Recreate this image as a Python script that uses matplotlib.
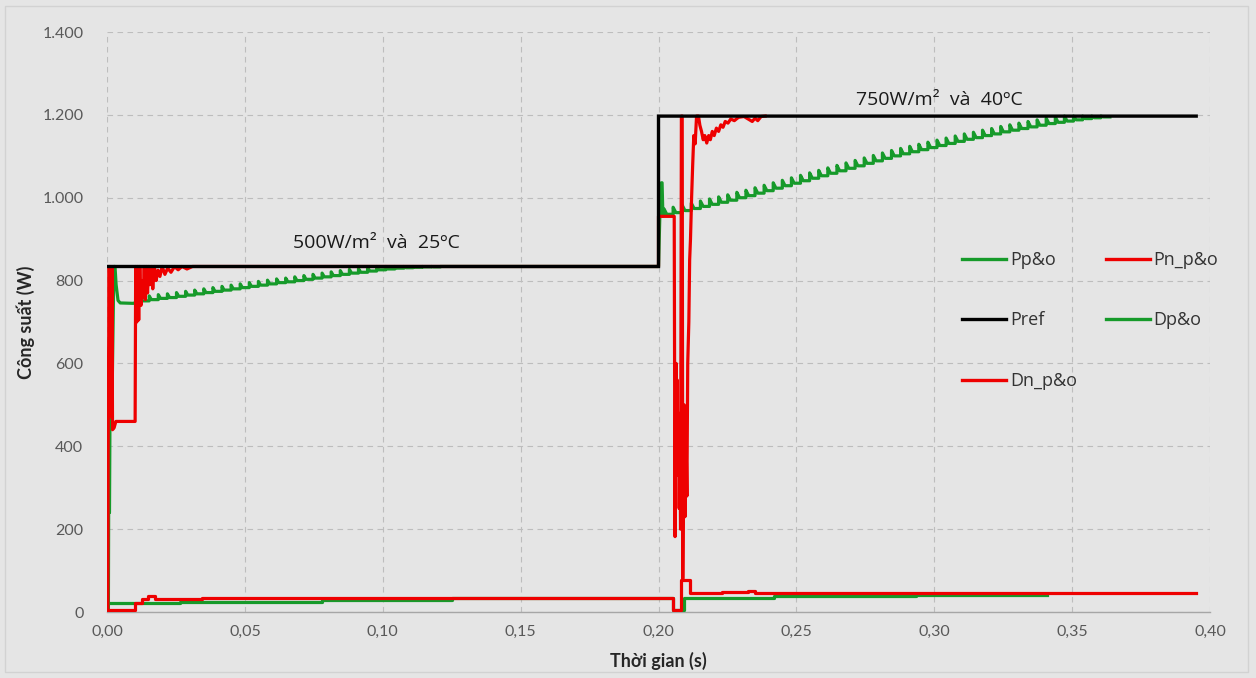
import numpy as np
import matplotlib
matplotlib.use("Agg")
import matplotlib.pyplot as plt
from matplotlib.lines import Line2D
from matplotlib.patches import Rectangle

# ---------------- data ----------------
x_ticks = [0.00, 0.05, 0.10, 0.15, 0.20, 0.25, 0.30, 0.35, 0.40]
x_tick_labels = ["0,00", "0,05", "0,10", "0,15", "0,20", "0,25", "0,30", "0,35", "0,40"]
y_ticks = [0, 200, 400, 600, 800, 1000, 1200, 1400]
y_tick_labels = ["0", "200", "400", "600", "800", "1.000", "1.200", "1.400"]

# reference power
pref_t = [0.000, 0.200, 0.200, 0.395]
pref_p = [834, 834, 1197, 1197]

# P&O power: start-up transient
pp_start_t = [0.0000, 0.0005, 0.0006, 0.0009, 0.0011, 0.0015, 0.0018, 0.0025, 0.0029,
              0.0033, 0.0040, 0.0048, 0.0095, 0.0110]
pp_start_p = [0, 0, 240, 240, 500, 480, 500, 834, 834, 790, 752, 746, 745, 748]
# P&O perturbation: level reached at each perturbation step (500 W/m2, 25 C)
pp_step_period = 0.0033
pp_steps1_t0 = 0.0120
pp_steps1 = [751, 754, 757, 759, 762, 765, 768, 771, 774, 777, 780, 783, 786, 789, 792,
             795, 797, 800, 803, 806, 809, 812, 815, 818, 820, 823, 826, 828, 830, 831,
             832, 833, 833, 834]
# transition to 750 W/m2, 40 C
pp_jump_t = [0.1240, 0.2000, 0.2005, 0.2010, 0.2013, 0.2016]
pp_jump_p = [834, 834, 959, 1036, 1036, 955]
pp_steps2_t0 = 0.2020
pp_steps2 = [960, 964, 969, 974, 979, 984, 989, 994, 1000, 1005, 1011, 1017, 1023, 1029,
             1035, 1041, 1047, 1053, 1059, 1065, 1071, 1077, 1083, 1089, 1095, 1101, 1106,
             1111, 1116, 1121, 1126, 1131, 1136, 1141, 1145, 1150, 1154, 1159, 1163, 1167,
             1171, 1175, 1179, 1182, 1185, 1188, 1191, 1193, 1195]

# new P&O power
pn1_t = [0.0000, 0.0003, 0.0004, 0.0006, 0.0008, 0.0010, 0.0012, 0.0014, 0.0016, 0.0018,
         0.0020, 0.0026, 0.0032, 0.0102, 0.0104, 0.0108, 0.0111, 0.0115, 0.0119, 0.0123,
         0.0127, 0.0131, 0.0135, 0.0139, 0.0143, 0.0147, 0.0151, 0.0156, 0.0161, 0.0166,
         0.0172, 0.0178, 0.0185, 0.0192, 0.0200, 0.0210, 0.0220, 0.0232, 0.0245, 0.0258,
         0.0272, 0.0290, 0.0310, 0.0330]
pn1_p = [0, 0, 380, 640, 834, 600, 834, 500, 470, 834,
         440, 445, 460, 460, 834, 700, 834, 705, 834, 740,
         800, 760, 834, 754, 834, 770, 834, 790, 834, 780,
         834, 800, 825, 810, 834, 815, 830, 820, 834, 826,
         834, 828, 834, 834]
pn2_t = [0.2000, 0.2000, 0.2057, 0.2058, 0.2060, 0.2062, 0.2064, 0.2066, 0.2068, 0.2070,
         0.2072, 0.2075, 0.2078, 0.2080, 0.2083, 0.2086, 0.2088, 0.2090, 0.2093, 0.2096,
         0.2100, 0.2103, 0.2106, 0.2110, 0.2113, 0.2116, 0.2120, 0.2124, 0.2128, 0.2133,
         0.2138, 0.2145, 0.2150, 0.2156, 0.2162, 0.2168, 0.2175, 0.2182, 0.2188, 0.2195,
         0.2202, 0.2210, 0.2218, 0.2226, 0.2234, 0.2242, 0.2252, 0.2262, 0.2275, 0.2290,
         0.2310, 0.2330, 0.2340, 0.2350, 0.2360, 0.2372, 0.2387]
pn2_p = [834, 955, 955, 680, 182, 540, 600, 430, 560, 330,
         480, 250, 400, 200, 1197, 1197, 80, 300, 500, 230,
         420, 280, 600, 700, 850, 900, 1000, 1080, 1150, 1130,
         1197, 1197, 1175, 1160, 1140, 1150, 1132, 1150, 1140, 1160,
         1150, 1168, 1160, 1176, 1170, 1184, 1180, 1190, 1186, 1194,
         1196, 1188, 1184, 1192, 1186, 1196, 1197]

# duty-cycle traces (step changes)
dp_t = [0.0000, 0.0265, 0.0780, 0.1250, 0.2054, 0.2093, 0.2420, 0.2933, 0.3410]
dp_v = [22.5, 25, 28, 35, 5, 35, 38, 41, 41]
dn_t = [0.0000, 0.0102, 0.0127, 0.0150, 0.0174, 0.0343, 0.2054, 0.2082, 0.2113,
        0.2230, 0.2325, 0.2350, 0.3950]
dn_v = [5, 21, 31, 39, 31, 35, 5, 77, 45, 47.5, 51, 47, 47]

labels = ["Pp&o", "Pn_p&o", "Pref", "Dp&o", "Dn_p&o"]
annot1 = "500W/m\u00b2  và  25\u00baC"
annot2 = "750W/m\u00b2  và  40\u00baC"

# ---------------- styling ----------------
BG = "#e5e5e5"
GREEN = "#169a2a"
RED = "#ee0000"
BLACK = "#000000"
GRID = "#bdbdbd"
TICK = "#595959"


def perturbation_path(t0, period, levels, height, width, ceiling):
    """Staircase with a short overshoot at every perturbation instant."""
    t, p = [], []
    for k, level in enumerate(levels):
        tk = t0 + k * period
        t += [tk, tk, tk + width, tk + period]
        p += [level, min(level + height, ceiling), level, level]
    return t, p


s1_t, s1_p = perturbation_path(pp_steps1_t0, pp_step_period, pp_steps1, 9, 0.0008, pref_p[0])
s2_t, s2_p = perturbation_path(pp_steps2_t0, pp_step_period, pp_steps2, 13, 0.0010, pref_p[-1])
pp_t = pp_start_t + s1_t + pp_jump_t + s2_t
pp_p = pp_start_p + s1_p + pp_jump_p + s2_p
pn_t = pn1_t + pn2_t
pn_p = pn1_p + pn2_p

W, H = 1256, 678
fig = plt.figure(figsize=(W / 100, H / 100), dpi=100, facecolor=BG)
ax = fig.add_axes([107 / W, 66 / H, 1103 / W, 580 / H])
ax.set_facecolor(BG)

fig.patches.append(Rectangle((5 / W, 6 / H), 1243 / W, 666 / H, transform=fig.transFigure,
                             fill=False, edgecolor="#d2d2d2", lw=1.0))

lw = 2.3
l_pp, = ax.plot(pp_t, pp_p, color=GREEN, lw=lw, zorder=3, solid_joinstyle="round")
l_pn, = ax.plot(pn_t, pn_p, color=RED, lw=lw, zorder=4, solid_joinstyle="round")
l_pref, = ax.plot(pref_t, pref_p, color=BLACK, lw=2.4, zorder=6, solid_joinstyle="miter",
                  snap=False)
l_dp, = ax.step(dp_t, dp_v, where="post", color=GREEN, lw=lw, zorder=3)
l_dn, = ax.step(dn_t, dn_v, where="post", color=RED, lw=lw, zorder=4)

ax.set_xlim(0, 0.40)
ax.set_ylim(0, 1400)
ax.set_xticks(x_ticks)
ax.set_xticklabels(x_tick_labels)
ax.set_yticks(y_ticks)
ax.set_yticklabels(y_tick_labels)
ax.tick_params(axis="both", length=0, colors=TICK, labelsize=11.5)
ax.tick_params(axis="y", pad=17)
ax.tick_params(axis="x", pad=9)
for lab in ax.get_xticklabels() + ax.get_yticklabels():
    lab.set_fontfamily("Lato")

ax.grid(True, color=GRID, lw=0.8, linestyle=(0, (5, 4)))
ax.set_axisbelow(True)
for side in ("top", "right", "left"):
    ax.spines[side].set_visible(False)
ax.spines["bottom"].set_color("#a6a6a6")
ax.spines["bottom"].set_linewidth(1.0)
ax.spines["bottom"].set_zorder(2)

ax.set_xlabel("Thời gian (s)", fontfamily="Lato", fontweight="bold", fontsize=13,
              color="#262626", labelpad=10)
ax.set_ylabel("Công suất (W)", fontfamily="Lato", fontweight="bold", fontsize=13,
              color="#262626", labelpad=5)

ax.text(0.0976, 891, annot1, ha="center", va="center", fontsize=14,
        fontfamily="Open Sans", color="#1a1a1a", zorder=7)
ax.text(0.302, 1236, annot2, ha="center", va="center", fontsize=14,
        fontfamily="Open Sans", color="#1a1a1a", zorder=7)

handles = [Line2D([], [], color=GREEN, lw=2.4), Line2D([], [], color=RED, lw=2.4),
           Line2D([], [], color=BLACK, lw=2.4), Line2D([], [], color=GREEN, lw=2.4),
           Line2D([], [], color=RED, lw=2.4)]
order = [0, 2, 4, 1, 3]
leg = fig.legend([handles[i] for i in order], [labels[i] for i in order],
                 loc="upper left", bbox_to_anchor=(962 / W, 1 - 251 / H), ncol=2,
                 frameon=False, borderpad=0, borderaxespad=0,
                 handlelength=2.45, handletextpad=0.2, labelspacing=2.35,
                 columnspacing=1.6, prop={"family": "Open Sans", "size": 13})
for txt in leg.get_texts():
    txt.set_color("#333333")

fig.savefig("out.png", dpi=100, facecolor=BG)
